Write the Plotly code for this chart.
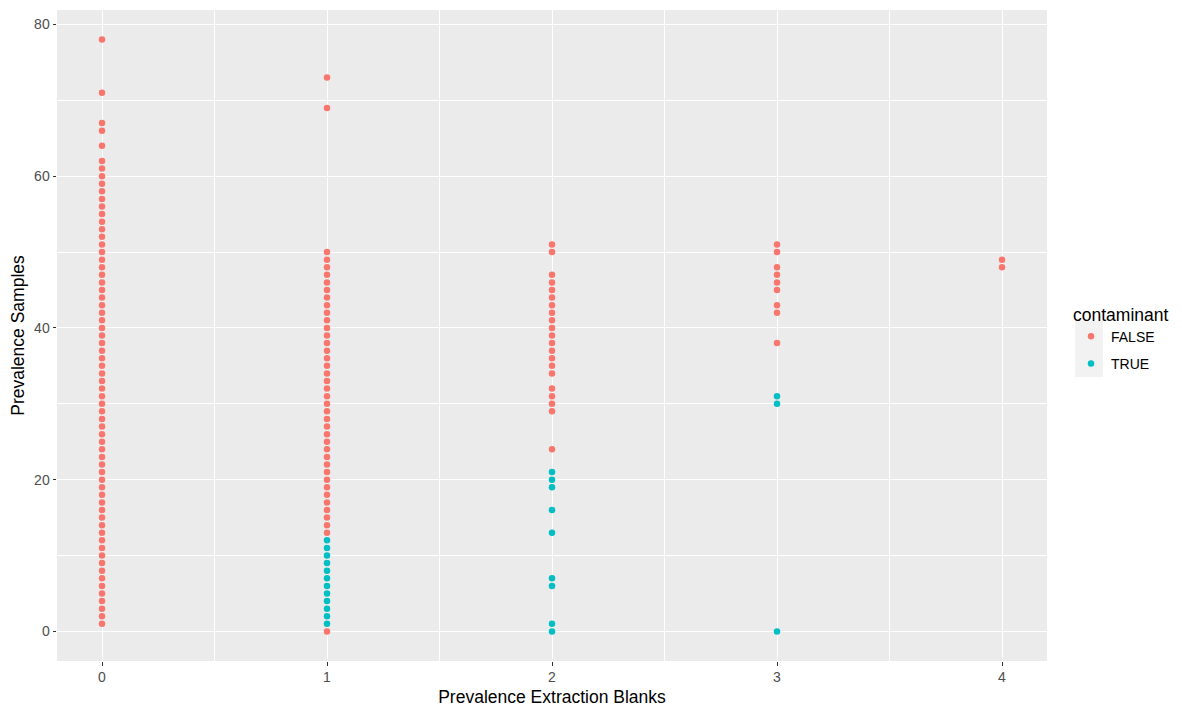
import plotly.graph_objects as go

# ---- data ----
# Prevalence Samples values of non-contaminant (FALSE) taxa, per extraction-blank prevalence
samples_false_b0 = [1, 2, 3, 4, 5, 6, 7, 8, 9, 10, 11, 12, 13, 14, 15, 16, 17, 18, 19, 20,
                    21, 22, 23, 24, 25, 26, 27, 28, 29, 30, 31, 32, 33, 34, 35, 36, 37, 38, 39, 40,
                    41, 42, 43, 44, 45, 46, 47, 48, 49, 50, 51, 52, 53, 54, 55, 56, 57, 58, 59, 60,
                    61, 62, 64, 66, 67, 71, 78]
samples_false_b1 = [0, 13, 14, 15, 16, 17, 18, 19, 20, 21, 22, 23, 24, 25, 26, 27, 28, 29, 30,
                    31, 32, 33, 34, 35, 36, 37, 38, 39, 40, 41, 42, 43, 44, 45, 46, 47, 48, 49, 50,
                    69, 73]
samples_false_b2 = [24, 29, 30, 31, 32, 34, 35, 36, 37, 38, 39, 40, 41, 42, 43, 44, 45, 46, 47, 50, 51]
samples_false_b3 = [38, 42, 43, 45, 46, 47, 48, 50, 51]
samples_false_b4 = [48, 49]

# contaminant (TRUE) taxa
samples_true_b1 = [1, 2, 3, 4, 5, 6, 7, 8, 9, 10, 11, 12]
samples_true_b2 = [0, 1, 6, 7, 13, 16, 19, 20, 21]
samples_true_b3 = [0, 30, 31]

blank_levels = [0, 1, 2, 3, 4]
x_tick_labels = ["0", "1", "2", "3", "4"]
y_tick_vals = [0, 20, 40, 60, 80]
y_tick_labels = ["0", "20", "40", "60", "80"]
legend_labels = ["FALSE", "TRUE"]

false_groups = [samples_false_b0, samples_false_b1, samples_false_b2, samples_false_b3, samples_false_b4]
true_groups = {1: samples_true_b1, 2: samples_true_b2, 3: samples_true_b3}

x_false, y_false = [], []
for lvl, vals in zip(blank_levels, false_groups):
    x_false += [lvl] * len(vals)
    y_false += vals
x_true, y_true = [], []
for lvl, vals in true_groups.items():
    x_true += [lvl] * len(vals)
    y_true += vals

RED = "#F8766D"
CYAN = "#00BFC4"
FONT = "Liberation Sans, Arial, sans-serif"

fig = go.Figure()
fig.add_trace(go.Scatter(x=x_false, y=y_false, mode="markers", name=legend_labels[0],
                         legendgroup="f",
                         marker=dict(color=RED, size=6.5, line=dict(width=0))))
fig.add_trace(go.Scatter(x=x_true, y=y_true, mode="markers", name=legend_labels[1],
                         legendgroup="t",
                         marker=dict(color=CYAN, size=6.5, line=dict(width=0))))

# page has an 8px body margin, so the figure is sized / placed accordingly
OFF = 8
W, H = 1182 - OFF, 711 - OFF
L, T = 57 - OFF, 10 - OFF
pw, ph = 990, 651
R = W - L - pw
B = H - T - ph

def px_x(p):  # page pixel -> paper x
    return (p - OFF - L) / pw

def px_y(p):  # page pixel -> paper y
    return (OFF + T + ph - p) / ph

# grey legend key background (ggplot style)
fig.add_shape(type="rect", xref="paper", yref="paper",
              x0=px_x(1075), x1=px_x(1103), y0=px_y(377), y1=px_y(321),
              fillcolor="#F2F2F2", line=dict(width=0), layer="below")

fig.update_layout(
    width=W, height=H,
    margin=dict(l=L, r=R, t=T, b=B),
    paper_bgcolor="white",
    plot_bgcolor="#EBEBEB",
    font=dict(family=FONT, size=14, color="black"),
    showlegend=True,
    legend=dict(
        title=dict(text="contaminant", font=dict(size=17.5, color="black")),
        font=dict(size=14, color="black"),
        x=px_x(1071), xanchor="left",
        y=px_y(298), yanchor="top",
        bgcolor="rgba(0,0,0,0)",
        traceorder="grouped",
        tracegroupgap=6,
    ),
    xaxis=dict(
        range=[-0.2, 4.2],
        tickmode="array", tickvals=blank_levels, ticktext=x_tick_labels,
        showgrid=True, gridcolor="white", gridwidth=1.2,
        minor=dict(dtick=0.5, tick0=0.5, showgrid=True, gridcolor="white", gridwidth=0.5),
        zeroline=False, showline=False,
        ticks="outside", ticklen=3.5, tickwidth=1, tickcolor="#333333",
        tickfont=dict(size=14, color="#4D4D4D"),
        title=dict(text="Prevalence Extraction Blanks", font=dict(size=17.5, color="black"), standoff=6),
    ),
    yaxis=dict(
        range=[-3.9, 81.9],
        tickmode="array", tickvals=y_tick_vals, ticktext=y_tick_labels,
        showgrid=True, gridcolor="white", gridwidth=1.2,
        minor=dict(dtick=10, tick0=10, showgrid=True, gridcolor="white", gridwidth=0.5),
        zeroline=False, showline=False,
        ticks="outside", ticklen=3.5, tickwidth=1, tickcolor="#333333",
        tickfont=dict(size=14, color="#4D4D4D"),
        title=dict(text="Prevalence Samples", font=dict(size=17.5, color="black"), standoff=6),
    ),
)

fig.write_html("out.html")
